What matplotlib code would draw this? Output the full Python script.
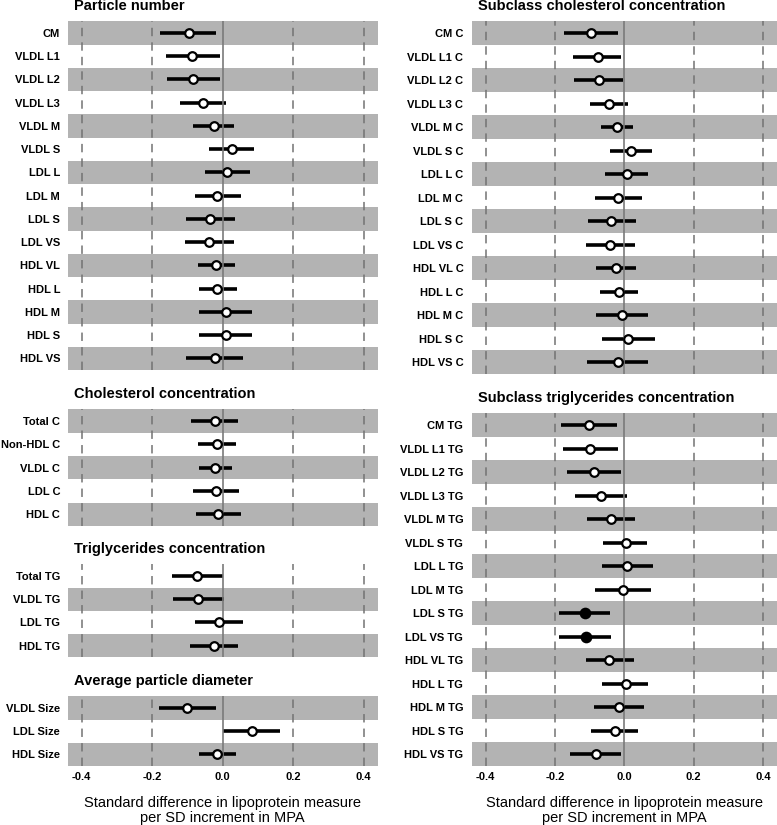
import matplotlib
matplotlib.use("Agg")
import matplotlib.pyplot as plt

plt.rcParams['font.family'] = ['Liberation Sans', 'DejaVu Sans']

# ---------------- data ----------------
pn_labels = ["CM", "VLDL L1", "VLDL L2", "VLDL L3", "VLDL M", "VLDL S", "LDL L", "LDL M",
             "LDL S", "LDL VS", "HDL VL", "HDL L", "HDL M", "HDL S", "HDL VS"]
pn_est = [-0.096, -0.086, -0.084, -0.056, -0.026, 0.025, 0.012, -0.015, -0.035, -0.039,
          -0.018, -0.015, 0.008, 0.009, -0.023]
pn_lo = [-0.177, -0.161, -0.159, -0.120, -0.085, -0.038, -0.051, -0.080, -0.103, -0.108,
         -0.071, -0.068, -0.068, -0.066, -0.103]
pn_hi = [-0.019, -0.009, -0.008, 0.009, 0.033, 0.088, 0.077, 0.052, 0.035, 0.032,
         0.035, 0.040, 0.084, 0.084, 0.059]
pn_sig = [False] * 15

ch_labels = ["Total C", "Non-HDL C", "VLDL C", "LDL C", "HDL C"]
ch_est = [-0.023, -0.017, -0.022, -0.020, -0.013]
ch_lo = [-0.089, -0.071, -0.067, -0.085, -0.077]
ch_hi = [0.043, 0.038, 0.025, 0.046, 0.051]
ch_sig = [False] * 5

tg_labels = ["Total TG", "VLDL TG", "LDL TG", "HDL TG"]
tg_est = [-0.072, -0.069, -0.011, -0.026]
tg_lo = [-0.145, -0.142, -0.078, -0.094]
tg_hi = [0.000, 0.005, 0.057, 0.043]
tg_sig = [False] * 4

sz_labels = ["VLDL Size", "LDL Size", "HDL Size"]
sz_est = [-0.100, 0.082, -0.016]
sz_lo = [-0.180, 0.000, -0.068]
sz_hi = [-0.020, 0.164, 0.037]
sz_sig = [False] * 3

sc_labels = ["CM C", "VLDL L1 C", "VLDL L2 C", "VLDL L3 C", "VLDL M C", "VLDL S C", "LDL L C",
             "LDL M C", "LDL S C", "LDL VS C", "HDL VL C", "HDL L C", "HDL M C", "HDL S C", "HDL VS C"]
sc_est = [-0.097, -0.077, -0.074, -0.044, -0.021, 0.020, 0.007, -0.017, -0.037, -0.040,
          -0.024, -0.015, -0.005, 0.012, -0.019]
sc_lo = [-0.174, -0.147, -0.144, -0.100, -0.066, -0.040, -0.056, -0.085, -0.105, -0.110,
         -0.081, -0.070, -0.080, -0.064, -0.107]
sc_hi = [-0.019, -0.009, -0.004, 0.012, 0.024, 0.080, 0.068, 0.050, 0.033, 0.031,
         0.033, 0.039, 0.068, 0.089, 0.068]
sc_sig = [False] * 15

st_labels = ["CM TG", "VLDL L1 TG", "VLDL L2 TG", "VLDL L3 TG", "VLDL M TG", "VLDL S TG", "LDL L TG",
             "LDL M TG", "LDL S TG", "LDL VS TG", "HDL VL TG", "HDL L TG", "HDL M TG", "HDL S TG", "HDL VS TG"]
st_est = [-0.103, -0.098, -0.086, -0.068, -0.038, 0.004, 0.009, -0.003, -0.114, -0.111,
          -0.043, 0.004, -0.016, -0.027, -0.082]
st_lo = [-0.183, -0.178, -0.166, -0.141, -0.106, -0.060, -0.064, -0.083, -0.189, -0.187,
         -0.110, -0.063, -0.086, -0.095, -0.155]
st_hi = [-0.022, -0.017, -0.010, 0.007, 0.031, 0.067, 0.083, 0.076, -0.041, -0.037,
         0.027, 0.069, 0.056, 0.040, -0.010]
st_sig = [False] * 8 + [True, True] + [False] * 5

x_ticks = [-0.4, -0.2, 0.0, 0.2, 0.4]
x_ticklabels = ["-0.4", "-0.2", "0.0", "0.2", "0.4"]
xlabel = "Standard difference in lipoprotein measure\nper SD increment in MPA"

# ---------------- figure ----------------
W, H = 777, 825
fig = plt.figure(figsize=(W / 100, H / 100), dpi=100)

def px_axes(x0, y0, x1, y1):
    return fig.add_axes([x0 / W, 1 - y1 / H, (x1 - x0) / W, (y1 - y0) / H])

BAND = '#b3b3b3'

def panel(ax, title, labels, est, lo, hi, sig, bottom=False, tickpad=5.5):
    n = len(labels)
    ax.set_xlim(-0.44, 0.44)
    ax.set_ylim(n - 0.5, -0.5)
    for k in range(n):
        if (n - 1 - k) % 2 == 0:
            ax.axhspan(k - 0.5, k + 0.5, color=BAND, lw=0, zorder=0)
    for t in x_ticks:
        if t == 0:
            ax.axvline(t, color='#7a7a7a', lw=1.2, zorder=4)
        else:
            ax.axvline(t, color='#737373', lw=1.1, ls=(0, (5.5, 4)), zorder=1)
    for k in range(n):
        ax.plot([lo[k], hi[k]], [k, k], color='black', lw=2.6, solid_capstyle='butt', zorder=3)
        ax.plot([est[k]], [k], marker='o', ms=6.2 if not sig[k] else 6.8,
                mfc='black' if sig[k] else 'white', mec='black', mew=1.6, zorder=5)
    ax.set_yticks(range(n))
    ax.set_yticklabels(labels, fontsize=8, fontweight='bold')
    ax.tick_params(axis='y', length=0, pad=tickpad)
    ax.set_xticks(x_ticks)
    if bottom:
        ax.set_xticklabels(x_ticklabels, fontsize=8, fontweight='bold')
        ax.tick_params(axis='x', length=0, pad=4.5)
        ax.set_xlabel(xlabel, fontsize=10.5, labelpad=10, linespacing=1.05)
    else:
        ax.set_xticklabels([])
        ax.tick_params(axis='x', length=0)
    for s in ax.spines.values():
        s.set_visible(False)
    ax.annotate(title, xy=(0, 1), xycoords='axes fraction', xytext=(4.8, 11),
                textcoords='offset points', ha='left', va='center',
                fontsize=10.5, fontweight='bold')

LX0, LX1 = 67.7, 377.7
RX0, RX1 = 471.7, 776.7

ax1 = px_axes(LX0, 21.3, LX1, 370.0)
panel(ax1, "Particle number", pn_labels, pn_est, pn_lo, pn_hi, pn_sig)
ax2 = px_axes(LX0, 409.3, LX1, 525.8)
panel(ax2, "Cholesterol concentration", ch_labels, ch_est, ch_lo, ch_hi, ch_sig)
ax3 = px_axes(LX0, 564.3, LX1, 657.3)
panel(ax3, "Triglycerides concentration", tg_labels, tg_est, tg_lo, tg_hi, tg_sig)
ax4 = px_axes(LX0, 696.3, LX1, 766.0)
panel(ax4, "Average particle diameter", sz_labels, sz_est, sz_lo, sz_hi, sz_sig, bottom=True)

ax5 = px_axes(RX0, 21.3, RX1, 374.0)
panel(ax5, "Subclass cholesterol concentration", sc_labels, sc_est, sc_lo, sc_hi, sc_sig, tickpad=6)
ax6 = px_axes(RX0, 413.3, RX1, 766.0)
panel(ax6, "Subclass triglycerides concentration", st_labels, st_est, st_lo, st_hi, st_sig,
      bottom=True, tickpad=6)

fig.savefig("out.png", dpi=100, facecolor='white')
